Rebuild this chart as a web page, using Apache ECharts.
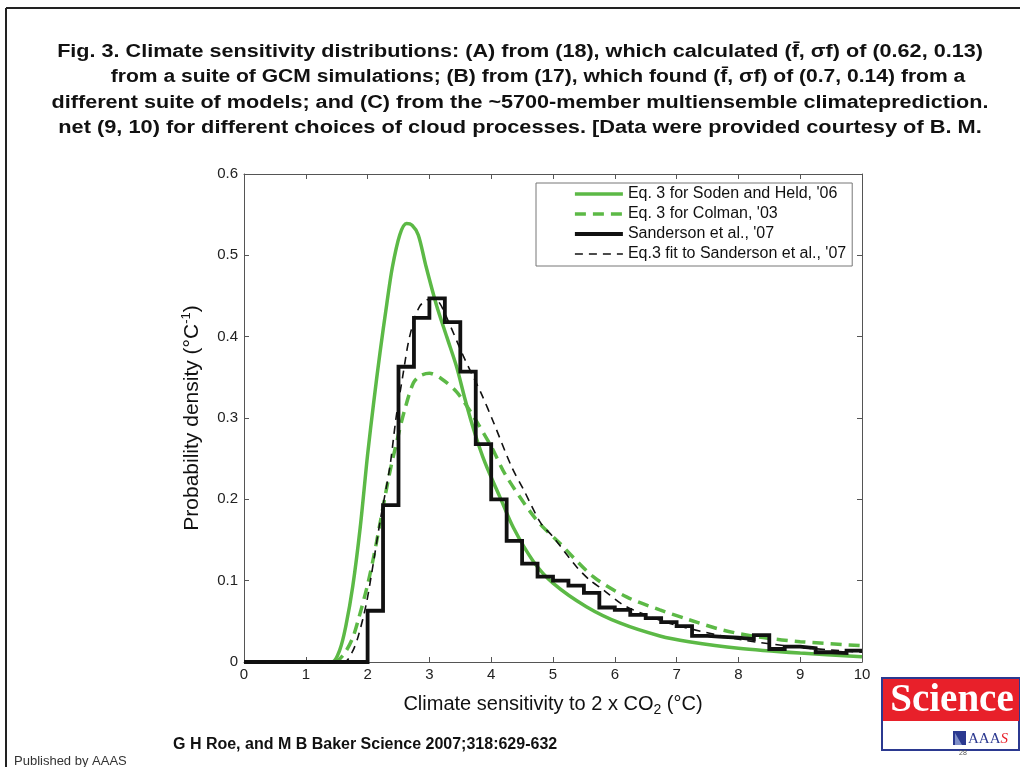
<!DOCTYPE html>
<html><head><meta charset="utf-8">
<script src="https://cdn.jsdelivr.net/npm/echarts@6/dist/echarts.min.js"></script>
<style>html,body{margin:0;padding:0;background:#fff}#c{width:1020px;height:767px}</style>
</head><body><div id="c"></div>
<script>
const titleLines = [
  'Fig. 3. Climate sensitivity distributions: (A) from (18), which calculated (f\u0304, \u03c3f) of (0.62, 0.13)',
  'from a suite of GCM simulations; (B) from (17), which found (f\u0304, \u03c3f) of (0.7, 0.14) from a',
  'different suite of models; and (C) from the ~5700-member multiensemble climateprediction.',
  'net (9, 10) for different choices of cloud processes. [Data were provided courtesy of B. M.'
];
const legendLetters = ['A', 'B', 'C', 'D'];
const legendNames = [
  "Eq. 3 for Soden and Held, '06",
  "Eq. 3 for Colman, '03",
  "Sanderson et al., '07",
  "Eq.3 fit to Sanderson et al., '07"
];
const xAxisTitle = 'Climate sensitivity to 2 x CO{sub|2} (\u00b0C)';
const yAxisTitle = 'Probability density (\u00b0C{sup|-1})';
const citation = 'G H Roe, and M B Baker Science 2007;318:629-632';
const publisher = 'Published by AAAS';

// Curve A: Eq. 3 for Soden and Held '06  [x, density]
const curveA = [[0,0],[1.42,0],[1.55,0.015],[1.65,0.045],[1.76,0.093],[1.88,0.165],[2.0,0.255],[2.1,0.32],[2.2,0.38],[2.31,0.44],[2.4,0.485],[2.52,0.525],[2.63,0.539],[2.72,0.537],[2.82,0.525],[2.94,0.488],[3.11,0.44],[3.28,0.40],[3.44,0.363],[3.57,0.325],[3.72,0.285],[3.9,0.245],[4.14,0.203],[4.36,0.165],[4.68,0.124],[5.0,0.097],[5.54,0.068],[6.08,0.048],[6.73,0.032],[7.2,0.025],[8.0,0.017],[9.0,0.011],[10,0.0065]];
// Curve B: Eq. 3 for Colman '03
const curveB = [[0,0],[1.45,0],[1.6,0.008],[1.75,0.028],[1.85,0.052],[2.0,0.095],[2.1,0.13],[2.2,0.17],[2.35,0.23],[2.5,0.28],[2.6,0.31],[2.74,0.343],[2.85,0.352],[3.0,0.355],[3.2,0.348],[3.44,0.332],[3.68,0.306],[4.0,0.265],[4.24,0.229],[4.73,0.175],[5.11,0.146],[5.65,0.105],[6.19,0.080],[6.73,0.064],[7.2,0.052],[7.76,0.039],[8.4,0.030],[9.0,0.025],[10,0.02]];
// Curve D: Eq.3 fit to Sanderson et al. '07
const curveD = [[0,0],[1.62,0],[1.75,0.012],[1.85,0.032],[1.98,0.072],[2.1,0.125],[2.2,0.172],[2.36,0.24],[2.46,0.30],[2.57,0.352],[2.68,0.40],[2.84,0.437],[3.03,0.447],[3.15,0.443],[3.3,0.42],[3.55,0.376],[3.84,0.33],[4.03,0.296],[4.33,0.240],[4.53,0.211],[4.8,0.171],[5.0,0.154],[5.37,0.118],[5.59,0.101],[5.81,0.089],[6.14,0.070],[6.6,0.055],[7.0,0.045],[8.0,0.028],[9.0,0.018],[10,0.012]];
// Histogram C: Sanderson et al. '07, bins of width 0.25 starting at 0
const histBinWidth = 0.25;
const histValues = [0,0,0,0,0,0,0,0,
  0.063,0.193,0.363,0.423,0.447,0.418,0.357,0.268,
  0.200,0.149,0.121,0.105,0.100,0.094,0.085,0.067,
  0.064,0.058,0.054,0.049,0.044,0.032,0.031,0.030,
  0.028,0.033,0.016,0.019,0.017,0.012,0.011,0.014];

const histData = histValues.map((v, i) => [i * histBinWidth, v]);
histData.push([histValues.length * histBinWidth, histValues[histValues.length - 1]]);

const GREEN = '#5cb946';
const FONT = '"Liberation Sans", Arial, sans-serif';
const chart = echarts.init(document.getElementById('c'));

const axisCommon = {
  type: 'value',
  axisLine: { show: true, onZero: false, lineStyle: { color: '#555', width: 1 } },
  axisTick: { show: true, inside: true, length: 5, lineStyle: { color: '#555' } },
  splitLine: { show: false }
};

const titleX = [520, 538, 520, 520];
const titleScale = [1.2, 1.17, 1.2, 1.21];
const graphics = [];
titleLines.forEach((t, i) => {
  graphics.push({ type: 'text', x: titleX[i], y: 52 + i * 25.3, scaleX: titleScale[i], silent: true,
    style: { text: t, textAlign: 'center', textVerticalAlign: 'middle', fill: '#111', font: 'bold 18px ' + FONT } });
});
legendLetters.forEach((l, i) => {
  graphics.push({ type: 'text', x: 553, y: 194 + i * 20, silent: true,
    style: { text: l, textAlign: 'center', textVerticalAlign: 'middle', fill: '#111', font: '16px ' + FONT } });
});
graphics.push(
  { type: 'line', silent: true, shape: { x1: 6, y1: 8, x2: 1020, y2: 8 }, style: { stroke: '#222', lineWidth: 2 } },
  { type: 'line', silent: true, shape: { x1: 6, y1: 8, x2: 6, y2: 767 }, style: { stroke: '#222', lineWidth: 2 } },
  { type: 'text', x: 173, y: 745, silent: true, style: { text: citation, textVerticalAlign: 'middle', fill: '#111', font: 'bold 16px ' + FONT } },
  { type: 'text', x: 14, y: 761, silent: true, style: { text: publisher, textVerticalAlign: 'middle', fill: '#333', font: '13px ' + FONT } },
  { type: 'rect', silent: true, shape: { x: 882, y: 678, width: 137, height: 72 }, style: { fill: '#fff', stroke: '#2b3990', lineWidth: 2 } },
  { type: 'rect', silent: true, shape: { x: 883, y: 679, width: 136, height: 42 }, style: { fill: '#e8202a' } },
  { type: 'text', x: 952, y: 701, silent: true, style: { text: 'Science', textAlign: 'center', textVerticalAlign: 'middle', fill: '#fff', font: 'bold 39px "Liberation Serif", "Times New Roman", serif' } },
  { type: 'polygon', silent: true, shape: { points: [[953,731],[966,731],[966,745],[953,745]] }, style: { fill: '#2b3990' } },
  { type: 'polygon', silent: true, shape: { points: [[955,733],[962,745],[955,745]] }, style: { fill: '#7f8fc8' } },
  { type: 'text', x: 968, y: 739, silent: true, style: { text: '{a|AAA}{s|S}', textVerticalAlign: 'middle',
      rich: { a: { fill: '#2b3990', font: '15px "Liberation Serif", serif' }, s: { fill: '#e8202a', font: 'italic 15px "Liberation Serif", serif' } } } },
  { type: 'text', x: 963, y: 753, silent: true, style: { text: '28', textAlign: 'center', textVerticalAlign: 'middle', fill: '#555', font: '7px ' + FONT } }
);

chart.setOption({
  backgroundColor: '#fff',
  animation: false,
  grid: { left: 244, top: 174, width: 618, height: 488, containLabel: false },
  legend: {
    orient: 'vertical', left: 536, top: 183,
    padding: [3, 6, 4, 37], itemWidth: 48, itemHeight: 16, itemGap: 4,
    borderColor: '#777', borderWidth: 1, backgroundColor: '#fff',
    itemStyle: { opacity: 0 },
    lineStyle: { width: 'inherit', type: 'inherit' },
    textStyle: { fontFamily: FONT, fontSize: 16, color: '#111' },
    selectedMode: false,
    data: legendNames
  },
  xAxis: [
    Object.assign({}, axisCommon, { min: 0, max: 10, interval: 1, position: 'bottom',
      axisLabel: { fontFamily: FONT, fontSize: 15, color: '#222', margin: 5 },
      name: xAxisTitle, nameLocation: 'middle', nameGap: 30,
      nameTextStyle: { fontFamily: FONT, fontSize: 20, color: '#111',
        rich: { sub: { fontFamily: FONT, fontSize: 14, color: '#111', padding: [11, 0, 0, 0] } } } }),
    Object.assign({}, axisCommon, { min: 0, max: 10, interval: 1, position: 'top', axisLabel: { show: false } })
  ],
  yAxis: [
    Object.assign({}, axisCommon, { min: 0, max: 0.6, interval: 0.1, position: 'left',
      axisLabel: { fontFamily: FONT, fontSize: 15, color: '#222', margin: 6 },
      name: yAxisTitle, nameLocation: 'middle', nameGap: 40, nameRotate: 90,
      nameTextStyle: { fontFamily: FONT, fontSize: 21, color: '#111',
        rich: { sup: { fontFamily: FONT, fontSize: 13, color: '#111', padding: [0, 0, 11, 0] } } } }),
    Object.assign({}, axisCommon, { min: 0, max: 0.6, interval: 0.1, position: 'right', axisLabel: { show: false } })
  ],
  series: [
    { name: legendNames[0], type: 'line', data: curveA, smooth: 0.3, symbol: 'none', clip: true,
      lineStyle: { color: GREEN, width: 3.5 }, itemStyle: { color: GREEN } },
    { name: legendNames[1], type: 'line', data: curveB, smooth: 0.3, symbol: 'none', clip: true,
      lineStyle: { color: GREEN, width: 3.5, type: [11, 7] }, itemStyle: { color: GREEN } },
    { name: legendNames[2], type: 'line', data: histData, step: 'end', symbol: 'none', clip: true,
      lineStyle: { color: '#111', width: 3.8, join: 'miter' }, itemStyle: { color: '#111' } },
    { name: legendNames[3], type: 'line', data: curveD, smooth: 0.3, symbol: 'none', clip: true,
      lineStyle: { color: '#111', width: 1.6, type: [8, 6] }, itemStyle: { color: '#111' } }
  ],
  graphic: graphics
});
</script>
</body></html>
